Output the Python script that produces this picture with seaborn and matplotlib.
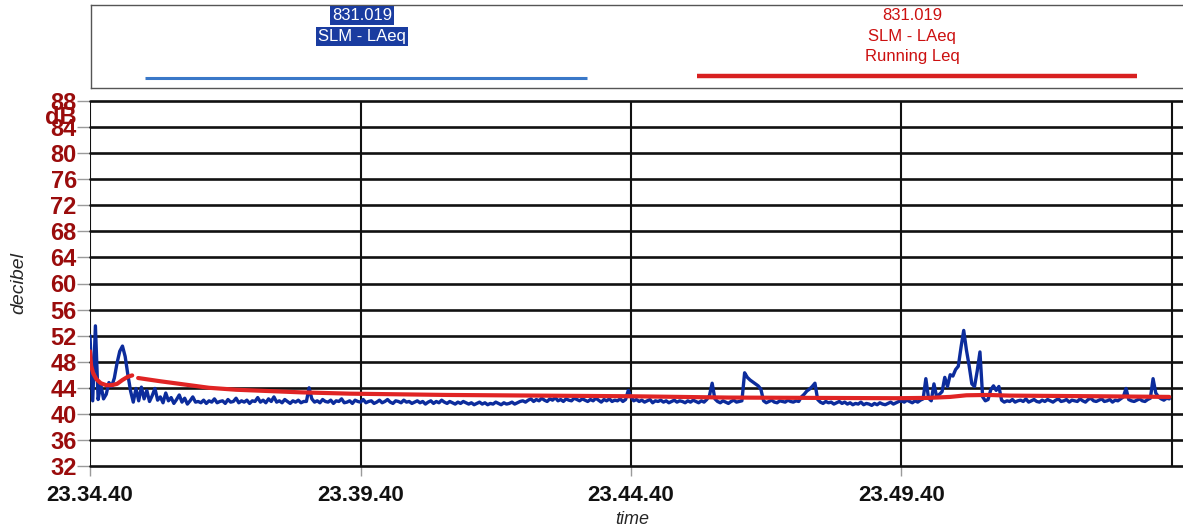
import numpy as np
import pandas as pd
import matplotlib
matplotlib.use("Agg")
import matplotlib.pyplot as plt
import seaborn as sns

# ---- data -------------------------------------------------------------
# LAeq log, one sample every 3 s (0.05 min) from 23.34.40
LOG_STEP_MIN = 0.05
laeq_db = [
    52.0, 42.0, 53.5, 42.2, 44.5, 42.3, 43.0, 44.8, 44.2, 45.5, 47.8, 49.6, 50.4, 48.8, 46.0, 43.5, 41.8, 43.9, 42.0, 44.1,
    42.3, 43.6, 41.9, 42.8, 43.9, 42.1, 42.6, 41.7, 43.2, 42.0, 42.5, 41.6, 42.2, 42.9, 41.8, 42.4, 41.5, 42.0, 42.6, 41.8,
    41.9, 41.7, 42.1, 41.6, 42.0, 41.8, 42.3, 41.7, 41.9, 42.0, 41.6, 42.2, 41.8, 41.9, 42.4, 41.7, 42.0, 41.8, 42.1, 41.6,
    42.0, 41.9, 42.5, 41.8, 42.1, 41.7, 42.3, 41.9, 42.6, 41.8, 42.0, 41.7, 42.2, 41.9, 41.6, 42.0, 41.8, 42.1, 41.7, 41.9,
    41.9, 44.0, 42.3, 41.8, 42.0, 41.7, 42.2, 41.9, 41.8, 42.1, 41.6, 42.0, 41.9, 42.3, 41.7, 41.8, 42.0, 41.6, 42.1, 41.9,
    41.8, 42.2, 41.7, 41.9, 42.0, 41.6, 41.8, 42.1, 41.7, 41.9, 42.2, 41.8, 41.6, 42.0, 41.9, 41.7, 42.1, 41.8, 41.9, 41.6,
    41.8, 42.0, 41.7, 41.9, 41.5, 41.8, 42.0, 41.6, 41.9, 41.7, 42.1, 41.8, 41.6, 41.9, 41.7, 41.5, 41.8, 41.6, 41.9, 41.7,
    41.5, 41.7, 41.4, 41.6, 41.8, 41.5, 41.7, 41.4, 41.6, 41.5, 41.8, 41.6, 41.4, 41.7, 41.5, 41.6, 41.8, 41.5, 41.7, 41.9,
    42.0, 41.8, 42.1, 42.3, 41.9, 42.2, 42.0, 42.4, 42.1, 41.9, 42.3, 42.1, 42.5, 42.0, 42.2, 41.9, 42.3, 42.1, 42.0, 42.4,
    42.2, 42.0, 42.3, 42.1, 41.9, 42.2, 42.0, 42.4, 42.1, 41.8, 42.2, 42.0, 42.3, 41.9, 42.1, 42.0, 42.3, 41.9, 42.2, 43.6,
    42.6, 42.0, 42.2, 41.9, 42.1, 41.8, 42.0, 42.2, 41.7, 42.0, 41.9, 42.1, 41.8, 42.0, 41.7, 41.9, 42.1, 41.8, 42.0, 41.9,
    41.7, 42.0, 41.8, 42.1, 41.9, 41.7, 42.0, 41.8, 42.2, 42.8, 44.7, 42.3, 41.9, 41.7, 42.0, 41.8, 41.6, 41.9, 42.1, 41.8,
    41.9, 42.0, 46.3, 45.6, 45.2, 44.9, 44.6, 44.3, 43.8, 42.0, 41.7, 41.9, 42.1, 41.8, 41.7, 42.0, 41.9, 41.8, 42.1, 41.9,
    41.8, 42.0, 41.9, 42.6, 43.0, 43.5, 43.8, 44.2, 44.7, 42.2, 41.8, 41.6, 41.9, 41.7, 41.8, 41.5, 41.7, 41.9, 41.6, 41.8,
    41.5, 41.7, 41.4, 41.6, 41.5, 41.8, 41.4, 41.6, 41.5, 41.3, 41.6, 41.4, 41.7, 41.5, 41.4, 41.6, 41.8, 41.5, 41.7, 41.9,
    42.0, 41.8, 42.1, 41.9, 41.7, 42.0, 41.8, 42.1, 42.3, 45.4, 42.4, 42.0, 44.6, 42.6, 43.0, 43.4, 45.6, 44.2, 46.0, 45.8,
    46.8, 47.3, 50.2, 52.8, 49.8, 47.4, 44.6, 44.2, 46.6, 49.5, 42.6, 42.0, 42.2, 43.7, 44.3, 43.6, 44.2, 42.1, 41.8, 42.0,
    41.9, 42.2, 41.8, 42.0, 42.1, 41.9, 42.3, 41.8, 42.0, 42.2, 41.9, 41.8, 42.1, 41.9, 42.2, 42.0, 41.8, 42.1, 42.3, 41.9,
    42.0, 42.2, 41.8, 42.1, 42.0, 41.9, 42.3, 42.0, 41.8, 42.2, 42.4, 42.0, 41.9, 42.1, 42.3, 41.9, 42.0, 42.2, 41.8, 42.1,
    42.0, 42.3, 42.6, 43.9, 42.2, 42.0, 41.9, 42.1, 42.3, 42.0, 41.9, 42.2, 42.4, 45.4, 43.2, 42.6, 42.3, 42.1, 42.4, 42.3,
]

# Running Leq (two recorded segments, minutes since 23.34.40)
leq_seg1_min = [0.0, 0.02, 0.06, 0.12, 0.2, 0.3, 0.4, 0.5, 0.6, 0.7, 0.78]
leq_seg1_db = [49.6, 47.4, 46.2, 45.3, 44.7, 44.4, 44.4, 44.6, 45.2, 45.7, 45.9]
leq_seg2_min = [0.89, 1.3, 1.75, 2.2, 2.7, 3.3, 3.9, 4.8, 6.6, 10.0, 11.8, 14.9, 15.5, 15.9, 16.2, 16.6, 17.0, 18.6, 19.95]
leq_seg2_db = [45.5, 45.0, 44.5, 44.0, 43.7, 43.5, 43.3, 43.1, 42.9, 42.7, 42.5, 42.4, 42.45, 42.6, 42.85, 42.9, 42.8, 42.7, 42.6]

y_ticks = list(range(32, 89, 4))
x_ticks_min = [0, 5, 10, 15]
x_tick_labels = ["23.34.40", "23.39.40", "23.44.40", "23.49.40"]
series_names = ["831.019\nSLM - LAeq", "831.019\nSLM - LAeq\nRunning Leq"]

# ---- frames -----------------------------------------------------------
laeq = pd.DataFrame({
    "minutes": np.arange(len(laeq_db)) * LOG_STEP_MIN,
    "dB": laeq_db,
})
leq = pd.concat([
    pd.DataFrame({"minutes": leq_seg1_min, "dB": leq_seg1_db, "seg": 1}),
    pd.DataFrame({"minutes": leq_seg2_min, "dB": leq_seg2_db, "seg": 2}),
], ignore_index=True)

# ---- style ------------------------------------------------------------
sns.set_style("white")
FONTS = ["Liberation Sans", "DejaVu Sans"]
plt.rcParams["font.family"] = FONTS

BLUE = "#0c2c9c"
RED = "#e02424"
DARK_RED = "#9a0c0c"

W, H = 1183, 531
fig = plt.figure(figsize=(W / 100, H / 100), dpi=100, facecolor="white")

left_px, right_px, top_px, bot_px = 90, 1183, 101, 466
ax = fig.add_axes([left_px / W, 1 - bot_px / H, (right_px - left_px) / W, (bot_px - top_px) / H])
ax.set_facecolor("white")

px_per_min = (1172 - 90) / 20.0
ax.set_xlim(0, (right_px - left_px) / px_per_min)
ax.set_ylim(32, 88)

# grid
for yv in y_ticks:
    ax.axhline(yv, color="#111111", lw=1.9, zorder=1, clip_on=False)
for xv in [0, 5, 10, 15, 20]:
    ax.axvline(xv, color="#111111", lw=1.5, zorder=1)

sns.lineplot(data=laeq, x="minutes", y="dB", ax=ax, color=BLUE, lw=2.4,
             estimator=None, sort=False, zorder=3)
sns.lineplot(data=leq, x="minutes", y="dB", units="seg", ax=ax, color=RED, lw=3.0,
             estimator=None, sort=False, zorder=4)

for s in ax.spines.values():
    s.set_visible(False)

ax.set_yticks(y_ticks)
ax.set_yticklabels([str(v) for v in y_ticks], color=DARK_RED,
                   fontsize=17, fontweight="bold")
ax.set_xticks(x_ticks_min)
ax.set_xticklabels(x_tick_labels, color="#111111", fontsize=16,
                   fontweight="bold")
ax.tick_params(axis="y", length=9.5, width=1, color="#9a9a9a", pad=0, left=True)
ax.tick_params(axis="x", length=7, width=1, color="#9a9a9a", pad=7, bottom=True)

ax.set_xlabel("time", fontsize=13, style="italic")
ax.set_ylabel("decibel", fontsize=14, style="italic")
ax.yaxis.set_label_coords(-63 / (right_px - left_px), 0.5)
ax.xaxis.set_label_coords((632 - left_px) / (right_px - left_px),
                          -(511 - bot_px) / (bot_px - top_px))
ax.xaxis.label.set_va("top")

fig.text(61 / W, 1 - 117 / H, "dB", color=DARK_RED, fontsize=17, fontweight="bold",
         ha="center", va="center")

# ---- legend panel -------------------------------------------------------
leg = fig.add_axes([91 / W, 1 - 88 / H, (W - 91 + 5) / W, (88 - 5) / H])
leg.set_xlim(91, W + 5)
leg.set_ylim(88, 5)
leg.set_xticks([])
leg.set_yticks([])
for s in leg.spines.values():
    s.set_color("#555555")
    s.set_linewidth(1.0)
leg.set_facecolor("white")

blue_lines = series_names[0].split("\n")
for k, t in enumerate(blue_lines):
    leg.text(362, 15 + 21 * k, t, color="white", fontsize=12,
             ha="center", va="center",
             bbox=dict(boxstyle="square,pad=0.12", fc="#1a3ca0", ec="none"))
leg.plot([145, 587], [78, 78], color="#3a78c8", lw=2.2, solid_capstyle="butt")

red_lines = series_names[1].split("\n")
for k, t in enumerate(red_lines):
    leg.text(912, 15 + 21 * k, t, color="#cc1010", fontsize=12,
             ha="center", va="center")
leg.plot([697, 1137], [76, 76], color="#d82020", lw=3.2, solid_capstyle="butt")

fig.savefig("out.png", dpi=100, facecolor="white")
